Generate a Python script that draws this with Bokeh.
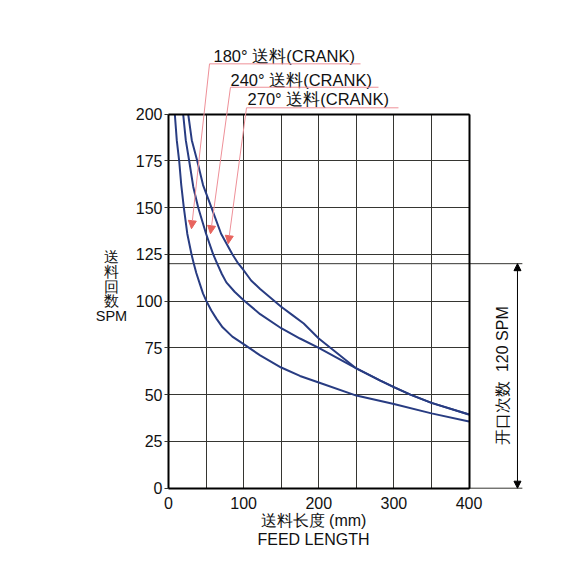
from bokeh.plotting import figure
from bokeh.models import Range1d, FixedTicker, Label, Arrow, NormalHead, LinearAxis
from bokeh.embed import file_html
from bokeh.resources import INLINE
import math

# ---- data ----
crank180_x = [8.4, 11, 14.2, 17, 20.4, 25, 30.6, 33.7, 37, 41.7, 46, 50.5, 57, 64, 72, 85, 100,
              122, 150, 175, 200, 250, 300, 350, 400]
crank180_y = [200, 186, 175, 162, 150, 136, 125, 120, 115, 109.2, 104, 100, 95, 90.5, 86, 81, 77,
              71, 64.5, 60, 56.5, 49.5, 45, 40, 35.7]

crank240_x = [19.5, 23, 27.5, 33, 39.5, 50, 59.5, 64.8, 71, 77, 88, 100, 122, 150, 175, 200,
              225, 250, 282, 300, 322, 350, 400]
crank240_y = [200, 186, 175, 161, 150, 136, 125, 120, 114.5, 110, 105, 100.5, 93, 85.5, 80, 75,
              69.5, 64, 57.5, 54, 50, 45.6, 39.4]

crank270_x = [26.2, 31, 38.2, 46, 57.2, 70, 85, 93, 100, 110, 122, 150, 165, 180, 190, 200,
              225, 250, 282, 300, 322, 350, 400]
crank270_y = [200, 186, 175, 162, 150, 136, 125, 120, 116.5, 111, 106.5, 97, 92.5, 88, 84, 80,
              72, 64, 57.5, 54, 50, 45.6, 39.4]

series_labels = ["180° 送料(CRANK)", "240° 送料(CRANK)", "270° 送料(CRANK)"]
x_ticks = [0, 100, 200, 300, 400]
x_minor = [50, 150, 250, 350]
y_ticks = [0, 25, 50, 75, 100, 125, 150, 175, 200]
x_max = 400
y_max = 200
open_spm = 120
y_title = "送\n料\n回\n数\nSPM"
x_title_cn = "送料长度 (mm)"
x_title_en = "FEED LENGTH"
right_label = "开口次数\u00a0\u00a0120 SPM"

FONT = "Liberation Sans"
CURVE = "#283c82"
PINK = "#ee9098"
HEAD = "#e8645e"
GRID = "#363632"
TXT = "#111111"

# ---- layout: a large frame, the chart box sits inside it ----
W, H = 568, 577
BL, BT, BR, BB = 40, 10, 4, 26
FW, FH = W - BL - BR, H - BT - BB
X0PX, XS = 168.0, 0.7513      # pixel of x=0, pixels per mm
Y0PX, YS = 487.7, 1.871       # pixel of y=0, pixels per SPM
x_start = (BL - X0PX) / XS
x_end = (BL + FW - X0PX) / XS
y_end = (Y0PX - BT) / YS
y_start = (Y0PX - (BT + FH)) / YS

p = figure(x_range=Range1d(x_start, x_end), y_range=Range1d(y_start, y_end),
           frame_width=FW, frame_height=FH,
           min_border_left=BL, min_border_right=BR,
           min_border_top=BT, min_border_bottom=BB,
           output_backend="svg", toolbar_location=None,
           background_fill_color="white", border_fill_color="white")
p.outline_line_color = None

# main axes placed at the chart box edges
p.xaxis.ticker = FixedTicker(ticks=x_ticks, minor_ticks=x_minor)
p.yaxis.ticker = FixedTicker(ticks=y_ticks)
p.xaxis.fixed_location = 0
p.yaxis.fixed_location = 0
p.xaxis.bounds = (0, x_max)
p.yaxis.bounds = (0, y_max)
for ax in (p.xaxis, p.yaxis):
    ax.axis_line_color = "black"
    ax.axis_line_width = 2
    ax.major_label_text_font = FONT
    ax.major_label_text_font_size = "16px"
    ax.major_label_text_color = TXT
    ax.minor_tick_line_color = None
    ax.major_tick_in = 0
p.xaxis.major_tick_out = 0
p.xaxis.major_label_standoff = 5
p.yaxis.major_tick_out = 4
p.yaxis.major_tick_line_color = GRID
p.yaxis.major_label_standoff = 2

# top and right edges of the box
top_ax = LinearAxis(fixed_location=y_max, bounds=(0, x_max), ticker=FixedTicker(ticks=[]),
                    axis_line_color="black", axis_line_width=2, major_tick_out=0,
                    major_tick_in=0, minor_tick_out=0, minor_tick_in=0)
right_ax = LinearAxis(fixed_location=x_max, bounds=(0, y_max), ticker=FixedTicker(ticks=[]),
                      axis_line_color="black", axis_line_width=2, major_tick_out=0,
                      major_tick_in=0, minor_tick_out=0, minor_tick_in=0)
p.add_layout(top_ax, "above")
p.add_layout(right_ax, "right")

# grid limited to the box
p.xgrid.grid_line_color = GRID
p.xgrid.minor_grid_line_color = GRID
p.ygrid.grid_line_color = GRID
p.xgrid.cross_bounds = (0, y_max)
p.ygrid.cross_bounds = (0, x_max)

# 120 SPM line (inside and extended to the right) and y=0 extension
p.segment(x0=[0, x_max], y0=[open_spm, 0], x1=[471, 471], y1=[open_spm, 0],
          line_color=GRID, line_width=1)

# curves
for xs, ys in ((crank180_x, crank180_y), (crank240_x, crank240_y), (crank270_x, crank270_y)):
    p.line(xs, ys, line_color=CURVE, line_width=2)

# labels with pink leader arrows
label_x = [59.9, 82.5, 105.2]
label_y = [230.9, 218.4, 207.8]
under_y = [226.8, 214.3, 203.3]
under_x0 = [54.6, 82.5, 103.8]
under_x1 = [255.6, 279.5, 306.1]
tip_x = [30.6, 55.9, 79.5]
tip_y = [138.7, 136.0, 130.7]
for i, txt in enumerate(series_labels):
    p.add_layout(Label(x=label_x[i], y=label_y[i], text=txt, text_font=FONT,
                       text_font_size="16.5px", text_align="left", text_baseline="middle",
                       text_color=TXT))
    p.add_layout(Arrow(end=None, x_start=under_x0[i], y_start=under_y[i],
                       x_end=under_x1[i], y_end=under_y[i], line_color=PINK, line_width=1))
    p.add_layout(Arrow(end=NormalHead(size=8, fill_color=HEAD, line_color=HEAD),
                       x_start=under_x0[i], y_start=under_y[i],
                       x_end=tip_x[i], y_end=tip_y[i], line_color=PINK, line_width=1))

# dimension arrow for 120 SPM
p.add_layout(Arrow(start=NormalHead(size=7, fill_color="black", line_color="black"),
                   end=NormalHead(size=7, fill_color="black", line_color="black"),
                   x_start=464.5, y_start=open_spm, x_end=464.5, y_end=0,
                   line_color="black", line_width=1))
p.add_layout(Label(x=444.6, y=60.2, text=right_label, angle=math.pi / 2,
                   text_font=FONT, text_font_size="16px", text_align="center",
                   text_baseline="middle", text_color=TXT))

# axis titles
p.add_layout(Label(x=-75.9, y=107.8, text=y_title, text_font=FONT, text_font_size="14.5px",
                   text_align="center", text_baseline="middle", text_line_height=0.92,
                   text_color=TXT))
p.add_layout(Label(x=193, y=-17.5, text=x_title_cn, text_font=FONT, text_font_size="16px",
                   text_align="center", text_baseline="middle", text_color=TXT))
p.add_layout(Label(x=193, y=-27.6, text=x_title_en, text_font=FONT, text_font_size="16px",
                   text_align="center", text_baseline="middle", text_color=TXT))

open("out.html", "w").write(file_html(p, INLINE))
